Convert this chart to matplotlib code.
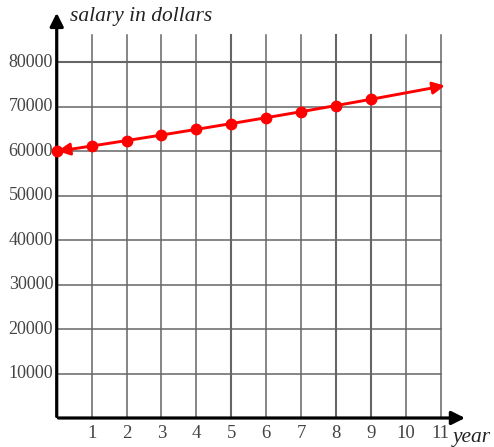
import matplotlib.pyplot as plt

# salary growth chart, 2% raise each year
years = [0, 1, 2, 3, 4, 5, 6, 7, 8, 9]
salary = [60000, 61200, 62424, 63672, 64946, 66245, 67570, 68921, 70300, 71706]
end_year = 11.2
end_salary = 74900

x_ticks = [1, 2, 3, 4, 5, 6, 7, 8, 9, 10, 11]
y_ticks = [10000, 20000, 30000, 40000, 50000, 60000, 70000, 80000]

plt.rcParams['font.family'] = ['Liberation Serif', 'DejaVu Serif']

fig = plt.figure(figsize=(4.94, 4.47), dpi=100)
ax = fig.add_axes([0, 0, 1, 1])
ax.set_xlim(-1.625, 12.53)
ax.set_ylim(-6526, 94059)
ax.axis('off')

grid_col = '#666666'
grid_top = 86200

for x in x_ticks:
    w = 1.5 if x in (5, 8, 9) else 1.1
    ax.plot([x, x], [0, grid_top], color=grid_col, lw=w, zorder=1)
    ax.text(x, -3400, str(x), ha='center', va='center', fontsize=13.5, color='#444444')

for y in y_ticks:
    w = 1.5 if y == 80000 else 1.1
    ax.plot([0, 11], [y, y], color=grid_col, lw=w, zorder=1)
    ax.text(-0.1, y, str(y), ha='right', va='center', fontsize=13, color='#444444')

# axes with arrows
ax.annotate('', xy=(11.78, 0), xytext=(-0.03, 0),
            arrowprops=dict(arrowstyle='-|>', lw=2.3, color='black', mutation_scale=20), zorder=3)
ax.annotate('', xy=(0, 91800), xytext=(0, -300),
            arrowprops=dict(arrowstyle='-|>', lw=2.3, color='black', mutation_scale=20), zorder=3)

ax.text(0.38, 90300, 'salary in dollars', fontsize=15.5, style='italic', ha='left', va='center', color='#222222')
ax.text(11.35, -4300, 'year', fontsize=15.5, style='italic', ha='left', va='center', color='#222222')

# the salary line
ax.plot(years, salary, color='red', lw=2.1, marker='o', markersize=7.5, zorder=4)
ax.annotate('', xy=(end_year, end_salary), xytext=(years[-1], salary[-1]),
            arrowprops=dict(arrowstyle='-|>', lw=2.1, color='red', mutation_scale=18), zorder=4)
ax.annotate('', xy=(years[0] - 0.05, salary[0]), xytext=(0.5, 60600),
            arrowprops=dict(arrowstyle='-|>', lw=2.1, color='red', mutation_scale=18), zorder=4)

plt.savefig('out.png', dpi=100)
plt.close()
